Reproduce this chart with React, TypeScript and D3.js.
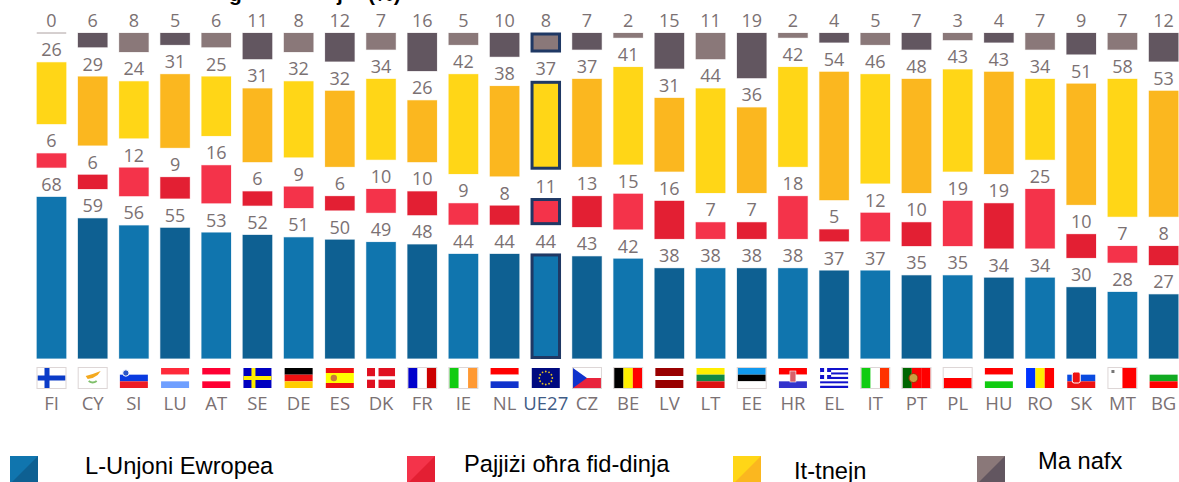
import React from "react";
import * as d3 from "d3";

const countries = ["FI","CY","SI","LU","AT","SE","DE","ES","DK","FR","IE","NL","UE27","CZ","BE","LV","LT","EE","HR","EL","IT","PT","PL","HU","RO","SK","MT","BG"];
const euValues = [68,59,56,55,53,52,51,50,49,48,44,44,44,43,42,38,38,38,38,37,37,35,35,34,34,30,28,27];
const otherValues = [6,6,12,9,16,6,9,6,10,10,9,8,11,13,15,16,7,7,18,5,12,10,19,19,25,10,7,8];
const bothValues = [26,29,24,31,25,31,32,32,34,26,42,38,37,37,41,31,44,36,42,54,46,48,43,43,34,51,58,53];
const dkValues = [0,6,8,5,6,11,8,12,7,16,5,10,8,7,2,15,11,19,2,4,5,7,3,4,7,9,7,12];
const seriesNames = ["L-Unjoni Ewropea","Pajjiżi oħra fid-dinja","It-tnejn","Ma nafx"];
const lightColors = ["#1075ae","#f4334a","#ffd617","#8a7879"];
const darkColors = ["#0e6092","#e31f33","#fbb71f","#625660"];
const seriesValues = [euValues, otherValues, bothValues, dkValues];
const titleFragments = ["g","j","(%)"];

type Stripes = { dir: "h" | "v"; colors: string[] };
const flagStripes: Record<string, Stripes> = {
  FI:{dir:"h",colors:["#ffffff"]}, CY:{dir:"h",colors:["#ffffff"]},
  SI:{dir:"h",colors:["#ffffff","#0a3be0","#ee1c25"]}, LU:{dir:"h",colors:["#ff2a3a","#ffffff","#6f9fff"]},
  AT:{dir:"h",colors:["#ff0033","#ffffff","#ff0033"]}, SE:{dir:"h",colors:["#0000c0"]},
  DE:{dir:"h",colors:["#000000","#ee1111","#ffcc00"]}, ES:{dir:"h",colors:["#ee1111","#ffff00","#ffff00","#ee1111"]},
  DK:{dir:"h",colors:["#e01020"]}, FR:{dir:"v",colors:["#0000cc","#ffffff","#cc0000"]},
  IE:{dir:"v",colors:["#11cc11","#ffffff","#ff9933"]}, NL:{dir:"h",colors:["#ff0000","#ffffff","#1133cc"]},
  UE27:{dir:"h",colors:["#000a80"]}, CZ:{dir:"h",colors:["#ffffff","#e8243c"]},
  BE:{dir:"v",colors:["#000000","#ffee00","#ff0000"]}, LV:{dir:"h",colors:["#990000","#990000","#ffffff","#990000","#990000"]},
  LT:{dir:"h",colors:["#ffee00","#118844","#dd1111"]}, EE:{dir:"h",colors:["#1199ee","#000000","#ffffff"]},
  HR:{dir:"h",colors:["#ff0000","#ffffff","#3333cc"]}, EL:{dir:"h",colors:["#1111cc","#ffffff","#1111cc","#ffffff","#1111cc","#ffffff","#1111cc","#ffffff","#1111cc"]},
  IT:{dir:"v",colors:["#11cc11","#ffffff","#ff3300"]}, PT:{dir:"v",colors:["#006600","#ff0000","#ff0000"]},
  PL:{dir:"h",colors:["#ffffff","#ff0000"]}, HU:{dir:"h",colors:["#ff0000","#ffffff","#11cc11"]},
  RO:{dir:"v",colors:["#0033ff","#ffee00","#ff0000"]}, SK:{dir:"h",colors:["#ffffff","#0a4be0","#ee1111"]},
  MT:{dir:"v",colors:["#ffffff","#ff0000"]}, BG:{dir:"h",colors:["#ffffff","#11aa22","#ff0000"]},
};
const bordered = ["FI","CY","FR","IE","CZ","BE","EE","PT","PL","MT","IT"];
const euStars = d3.range(12);

const W = 1179, H = 482;
const TOP = 33, BOTTOM = 358.5, GAP = 29.3;
const unitScale = d3.scaleLinear().domain([0, 100]).range([0, BOTTOM - TOP - 3 * GAP]);
const xScale = d3.scaleBand<string>().domain(countries)
  .range([51.5 - 41.19 / 2, 51.5 - 41.19 / 2 + 41.19 * 28]).paddingInner(11.7 / 41.19).paddingOuter(11.7 / 41.19 / 2);
const FLAG_W = 28, FLAG_H = 20, FLAG_Y = 368;

function Flag({ code, x }: { code: string; x: number }) {
  const s = flagStripes[code];
  const band = d3.scaleBand<number>().domain(d3.range(s.colors.length)).range(s.dir === "h" ? [0, FLAG_H] : [0, FLAG_W]);
  return (
    <g transform={`translate(${x},${FLAG_Y})`}>
      {s.colors.map((c, i) => s.dir === "h"
        ? <rect key={i} x={0} y={band(i)} width={FLAG_W} height={band.bandwidth()} fill={c} />
        : <rect key={i} x={band(i)} y={0} width={band.bandwidth()} height={FLAG_H} fill={c} />)}
      {code === "FI" && <><rect x={7} width={5} height={FLAG_H} fill="#0a3bc8" /><rect y={7.5} width={FLAG_W} height={5} fill="#0a3bc8" /></>}
      {code === "SE" && <><rect x={8} width={4} height={FLAG_H} fill="#ffee00" /><rect y={8} width={FLAG_W} height={4} fill="#ffee00" /></>}
      {code === "DK" && <><rect x={8} width={3.5} height={FLAG_H} fill="#fff" /><rect y={8.2} width={FLAG_W} height={3.5} fill="#fff" /></>}
      {code === "CY" && <><path d="M7,8 L14,6 L22,3 L19,7 L14,10 L9,11 Z" fill="#f4a91e" /><path d="M10,13 Q14,16 18,13" fill="none" stroke="#7fbf6a" strokeWidth={2} /></>}
      {code === "SI" && <circle cx={6} cy={5} r={3.2} fill="#2a55c8" stroke="#fff" />}
      {code === "ES" && <circle cx={8} cy={10} r={3.2} fill="#c9793a" />}
      {code === "CZ" && <path d={`M0,0 L14,${FLAG_H / 2} L0,${FLAG_H} Z`} fill="#1133cc" />}
      {code === "HR" && <rect x={11} y={3} width={6} height={11} fill="#d8606a" stroke="#fff" strokeWidth={.6} />}
      {code === "EL" && <><rect width={11} height={11} fill="#1111cc" /><rect x={4} width={3} height={11} fill="#fff" /><rect y={4} width={11} height={3} fill="#fff" /></>}
      {code === "PT" && <circle cx={11} cy={10} r={4.5} fill="#c8a040" stroke="#aa2200" />}
      {code === "SK" && <rect x={5} y={4} width={8} height={11} rx={2} fill="#ee1111" stroke="#fff" />}
      {code === "MT" && <rect x={3} y={2} width={3} height={3} fill="#777" />}
      {code === "UE27" && euStars.map(i => (
        <circle key={i} cx={FLAG_W / 2 + 6.5 * Math.cos(i * Math.PI / 6)} cy={FLAG_H / 2 + 6.5 * Math.sin(i * Math.PI / 6)} r={0.9} fill="#e6c420" />
      ))}
      {bordered.includes(code) && <rect x={-0.5} y={-0.5} width={FLAG_W + 1} height={FLAG_H + 1} fill="none" stroke="#ddd6d6" />}
    </g>
  );
}

const legendX = [10, 407, 733, 977];
const legendTextX = [85, 464, 794, 1038];
const legendTextY = [474, 472, 479, 469];

export default function App() {
  const numFont = "'Open Sans', sans-serif";
  return (
    <svg width={W} height={H} style={{ position: "absolute", left: 0, top: 0, background: "#fff" }}>
      <g fontFamily="'Liberation Sans', Arial, sans-serif" fontWeight={700} fontSize={21} fill="#000">
        <text x={229} y={1}>{titleFragments[0]}</text>
        <text x={337} y={1}>{titleFragments[1]}</text>
        <text x={368} y={1}>{titleFragments[2]}</text>
      </g>
      {countries.map((c, i) => {
        const x = xScale(c)!;
        const w = xScale.bandwidth();
        const cx = x + w / 2;
        const colors = i % 2 === 0 ? lightColors : darkColors;
        const isEU = c === "UE27";
        let y = BOTTOM;
        return (
          <g key={c}>
            {seriesValues.map((vals, s) => {
              const v = vals[i];
              const h = unitScale(v);
              const top = y - h;
              y = top - GAP;
              return (
                <g key={s}>
                  {v === 0
                    ? <line x1={x} x2={x + w} y1={top} y2={top} stroke={colors[3]} strokeOpacity={0.7} />
                    : isEU
                      ? <rect x={x + 1} y={top + 1} width={w - 2} height={h - 2} fill={lightColors[s]} stroke="#1f3864" strokeWidth={3} />
                      : <rect x={x} y={top} width={w} height={h} fill={colors[s]} stroke={colors[s]} strokeOpacity={0.2} />}
                  <text x={cx} y={top - 6} textAnchor="middle" fontFamily={numFont} fontSize={18} fill="#7b7173">{v}</text>
                </g>
              );
            })}
            <Flag code={c} x={cx - FLAG_W / 2} />
            <text x={cx} y={410} textAnchor="middle" fontFamily={numFont} fontSize={18.5} fill={isEU ? "#3f5c86" : "#7b7173"}>{c}</text>
          </g>
        );
      })}
      {seriesNames.map((n, i) => (
        <g key={n}>
          <rect x={legendX[i]} y={456} width={28} height={28} fill={lightColors[i]} />
          <path d={`M${legendX[i] + 28},456 L${legendX[i] + 28},484 L${legendX[i]},484 Z`} fill={darkColors[i]} />
          <text x={legendTextX[i]} y={legendTextY[i]} fontFamily="'Liberation Sans', Arial, sans-serif" fontSize={23.7} fill="#000">{n}</text>
        </g>
      ))}
    </svg>
  );
}
